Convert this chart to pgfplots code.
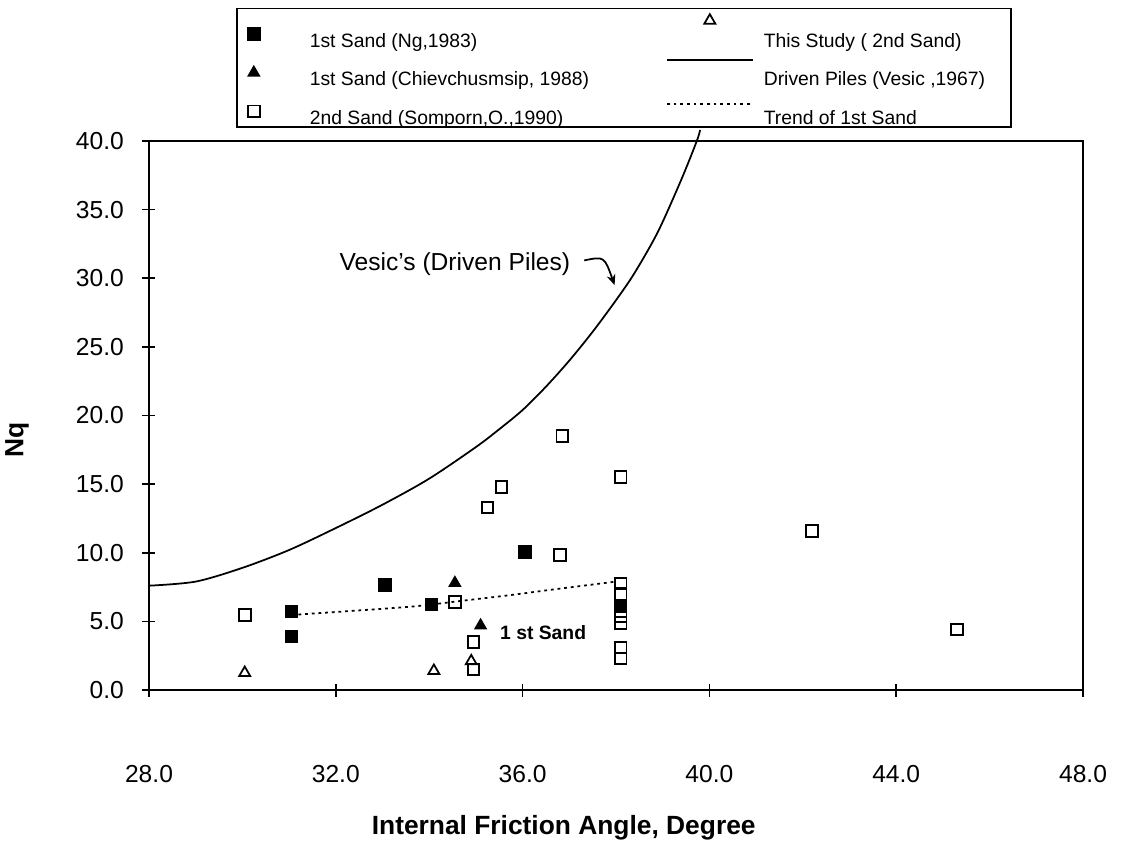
\documentclass[border=0pt]{standalone}
\usepackage{fontspec}
\setmainfont{Liberation Sans}
\usepackage{pgfplots}
\pgfplotsset{compat=1.18}
\usepackage{pgfplotstable}
\usetikzlibrary{arrows.meta}

\pgfplotstableread{
x y
31.05 5.7
31.05 3.9
33.05 7.65
34.05 6.25
36.05 10.05
38.1 6.1
}\ngdata
\pgfplotstableread{
x y
34.55 7.8
35.1 4.7
}\chdata
\pgfplotstableread{
x y
30.05 5.45
34.55 6.4
34.95 3.5
34.95 1.5
35.25 13.3
35.55 14.8
36.85 18.5
36.8 9.85
38.1 15.5
38.1 7.75
38.1 7.0
38.1 5.4
38.1 4.9
38.1 3.1
38.1 2.3
42.2 11.6
45.3 4.4
}\spdata
\pgfplotstableread{
x y
30.05 1.25
34.1 1.4
34.9 2.1
}\tsdata
\pgfplotstableread{
x y
28 7.6
29 7.9
30 8.9
31 10.2
32 11.8
33 13.5
34 15.4
35 17.7
35.5 19.0
36 20.4
36.5 22.1
37 24.0
37.5 26.1
38 28.4
38.4 30.4
38.9 33.4
39.4 37.2
39.73 40.0
39.8 40.8
}\vesic
\pgfplotstableread{
x y
31.2 5.5
32.5 5.8
33.7 6.1
34.7 6.5
35.7 6.9
36.6 7.3
38.0 7.9
}\trend

\pgfplotsset{
  limgA/.style={legend image code/.code={\path[draw=none] (0cm,-0.1cm) rectangle (1.36cm,0.1cm); \draw[##1,overlay] plot coordinates {(0.34cm,0.15cm)};}},
  limgB/.style={legend image code/.code={\path[draw=none] (0cm,-0.1cm) rectangle (2.02cm,0.1cm); \draw[##1,overlay] plot coordinates {(1.04cm,0.42cm)};}},
  limgL/.style={legend image code/.code={\path[draw=none] (0cm,-0.1cm) rectangle (2.02cm,0.1cm); \draw[##1,overlay] (0.18cm,0.4cm) -- (1.9cm,0.4cm);}},
  limgT/.style={legend image code/.code={\path[draw=none] (0cm,-0.1cm) rectangle (2.02cm,0.1cm); \draw[##1,overlay] (0.18cm,0.3cm) -- (1.9cm,0.3cm);}},
}

\newcommand\ca[1]{\makebox[6.86cm][l]{#1}}
\newcommand\cb[1]{\makebox[4.84cm][l]{#1}}

\begin{document}
\begin{tikzpicture}
\useasboundingbox (-2.98,-3.06) rectangle (19.66,13.80);
\begin{axis}[
  at={(0,0)}, anchor=south west,
  scale only axis, width=18.68cm, height=10.98cm,
  xmin=28, xmax=48, ymin=0, ymax=40,
  xtick={28,32,...,48}, ytick={0,5,...,40},
  xtick pos=bottom, ytick pos=left,
  tick align=center, major tick length=0.26cm,
  axis line style={line width=1.1pt},
  every tick/.style={black, line width=0.9pt},
  clip=false,
  tick label style={font=\fontsize{14}{16}\selectfont},
  xticklabel style={anchor=center, yshift=-1.55cm},
  yticklabel style={anchor=east, xshift=-0.25cm},
  xlabel={Internal Friction Angle, Degree},
  ylabel={Nq},
  xlabel style={at={(axis description cs:0.444,0)}, anchor=center, yshift=-2.76cm, font=\bfseries\fontsize{15}{17}\selectfont},
  ylabel style={at={(axis description cs:-0.1413,0.455)}, anchor=center, font=\bfseries\fontsize{15}{17}\selectfont},
  /pgf/number format/fixed, /pgf/number format/fixed zerofill,
  /pgf/number format/precision=1, /pgf/number format/assume math mode=true,
  legend columns=2,
  legend cell align=left,
  legend style={draw=black, line width=1pt, inner xsep=0pt, inner ysep=0pt,
    column sep=0pt, row sep=0.44cm,
    at={(rel axis cs:0.0931,1.0237)}, anchor=south west,
    font=\fontsize{11}{13}\selectfont,
    nodes={inner xsep=0.1cm, inner ysep=0pt}},
]
\addlegendimage{empty legend}\addlegendentry{}
\addlegendimage{empty legend}\addlegendentry{}
\addplot[only marks, mark=square*, mark size=3.4pt, black, line width=0.8pt, limgA]
  table[x=x,y=y]{\ngdata};
\addlegendentry{\ca{1st Sand (Ng,1983)}}
\addplot[only marks, mark=triangle, mark size=3.6pt, black, line width=1pt, limgB]
  table[x=x,y=y]{\tsdata};
\addlegendentry{\cb{This Study ( 2nd Sand)}}
\addplot[only marks, mark=triangle*, mark size=3.6pt, black, line width=0.8pt, limgA]
  table[x=x,y=y]{\chdata};
\addlegendentry{\ca{1st Sand (Chievchusmsip, 1988)}}
\addplot[black, line width=1pt, smooth, no markers, limgL]
  table[x=x,y=y]{\vesic};
\addlegendentry{\cb{Driven Piles (Vesic ,1967)}}
\addplot[only marks, mark=square, mark size=3.3pt, black, line width=1.1pt, limgA]
  table[x=x,y=y]{\spdata};
\addlegendentry{\ca{2nd Sand (Somporn,O.,1990)}}
\addplot[black, line width=1pt, smooth, no markers, dash pattern=on 1.6pt off 2.2pt, limgT]
  table[x=x,y=y]{\trend};
\addlegendentry{\cb{Trend of 1st Sand}}

\node[font=\fontsize{14}{16}\selectfont] at (axis cs:34.55,31.0) {Vesic's (Driven Piles)};
\draw[line width=1pt, -{Stealth[length=6pt,width=5pt]}] (axis cs:37.32,31.3) .. controls (axis cs:37.75,31.6) .. (axis cs:37.97,29.5);
\node[font=\bfseries\fontsize{11}{13}\selectfont] at (axis cs:36.44,4.15) {1 st Sand};
\end{axis}
\end{tikzpicture}
\end{document}
